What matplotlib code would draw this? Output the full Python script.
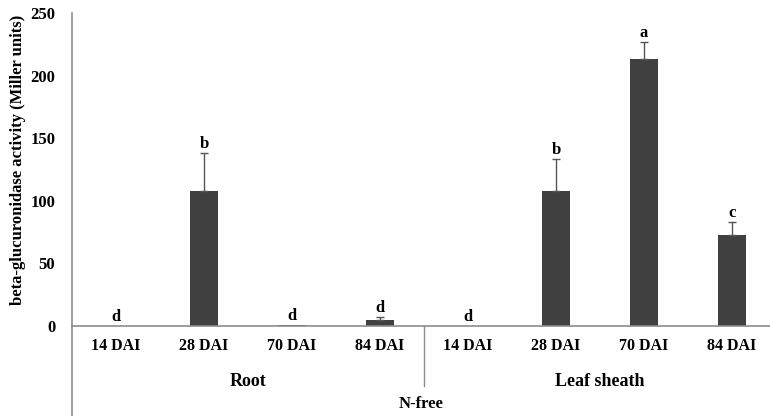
import matplotlib
matplotlib.use("Agg")
import matplotlib.pyplot as plt

# values
days = ["14 DAI", "28 DAI", "70 DAI", "84 DAI", "14 DAI", "28 DAI", "70 DAI", "84 DAI"]
tissues = ["Root", "Leaf sheath"]
activity = [0, 108, 0.6, 5, 0, 108, 213, 73]
error = [0, 30, 0, 2, 0, 25, 14, 10]
letters = ["d", "b", "d", "d", "d", "b", "a", "c"]
group_label = "N-free"

plt.rcParams['font.family'] = ['Liberation Serif', 'DejaVu Serif']
plt.rcParams['font.weight'] = 'bold'

axis_grey = "#8c8c8c"
bar_color = "#404040"

fig = plt.figure(figsize=(7.7, 4.16), dpi=100)
W, H = 770, 416
ax_left, ax_right = 72, 776
ax_top, ax_bottom = 13, 326
ax = fig.add_axes([ax_left / W, 1 - ax_bottom / H, (ax_right - ax_left) / W, (ax_bottom - ax_top) / H])

x = list(range(len(days)))
ax.bar(x, activity, width=0.32, color=bar_color, linewidth=0, zorder=2)

# error bars only where there is an error
ex = [i for i in x if error[i] > 0]
ax.errorbar(ex, [activity[i] for i in ex], yerr=[[0] * len(ex), [error[i] for i in ex]], fmt="none",
            ecolor="#555555", elinewidth=1, capsize=3, capthick=1, zorder=3)

for i, (v, e, l) in enumerate(zip(activity, error, letters)):
    ax.text(i, v + e + 1, l, ha="center", va="bottom", fontsize=12, fontweight="bold")

ax.set_xlim(-0.5, 7.5)
ax.set_ylim(0, 250)
ax.set_yticks([0, 50, 100, 150, 200, 250])
ax.tick_params(axis="y", length=0, labelsize=12, pad=12)
ax.set_xticks(x)
ax.set_xticklabels(days, fontsize=11.5, fontweight="bold")
ax.tick_params(axis="x", length=0, pad=9)
for lab in ax.get_yticklabels():
    lab.set_fontweight("bold")

for s in ["top", "right"]:
    ax.spines[s].set_visible(False)
for s in ["left", "bottom"]:
    ax.spines[s].set_color(axis_grey)
    ax.spines[s].set_linewidth(1.2)

# y axis line continues below zero
ext = -(H - ax_bottom) / (ax_bottom - ax_top)
ax.plot([0, 0], [0, ext], transform=ax.transAxes, color=axis_grey, lw=1.2, clip_on=False)

# separator between tissues
sep = ax.get_xaxis_transform()
ax.plot([3.5, 3.5], [0, -60 / (ax_bottom - ax_top)], transform=sep, color=axis_grey, lw=1, clip_on=False)

ax.text(1.5, -55 / (ax_bottom - ax_top), tissues[0], transform=sep, ha="center", va="center",
        fontsize=13, fontweight="bold")
ax.text(5.5, -55 / (ax_bottom - ax_top), tissues[1], transform=sep, ha="center", va="center",
        fontsize=13, fontweight="bold")
ax.text(3.47, -78 / (ax_bottom - ax_top), group_label, transform=sep, ha="center", va="center",
        fontsize=12, fontweight="bold")

ax.set_ylabel("beta-glucuronidase activity (Miller units)", fontsize=12, fontweight="bold")
ax.yaxis.set_label_coords(-46 / (ax_right - ax_left), 0.53)

fig.savefig("out.png", dpi=100)
